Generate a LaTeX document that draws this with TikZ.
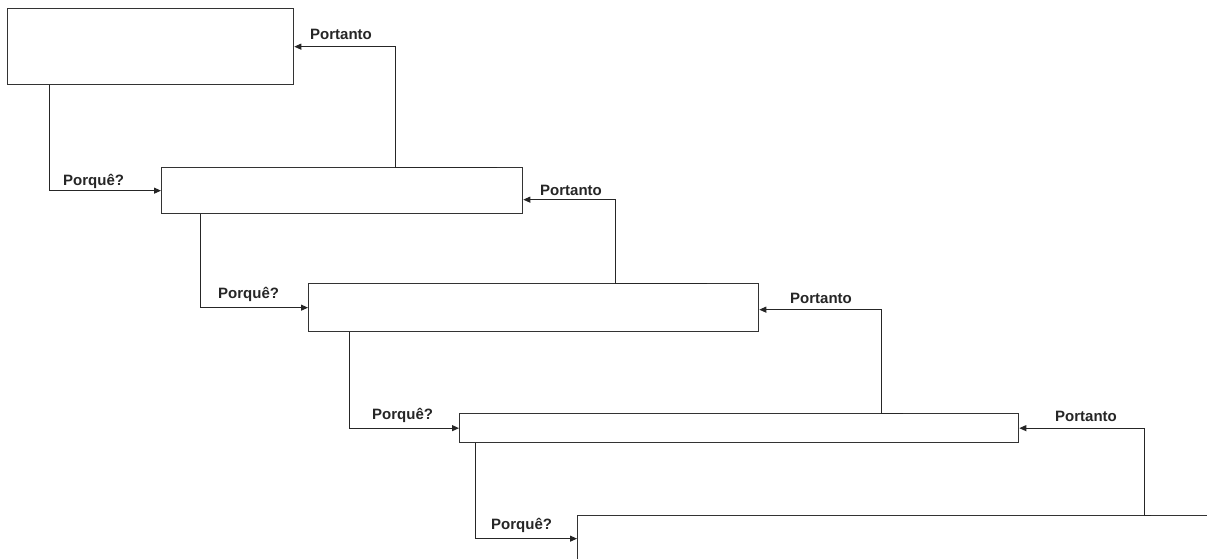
\documentclass[tikz,border=0pt]{standalone}
\usepackage{fontspec}
\setmainfont{Liberation Sans}
\usetikzlibrary{arrows.meta}
\begin{document}
\begin{tikzpicture}[x=1pt,y=-1pt,
  box/.style={draw=black!80,line width=1.3pt,fill=white,inner sep=0pt,anchor=north west},
  link/.style={draw=black!85,line width=1pt,-{Triangle[length=7pt,width=6pt]}},
  lbl/.style={font=\fontsize{15}{18}\selectfont\bfseries,inner sep=0pt,anchor=base west,text=black!85}]
\useasboundingbox (0,0) rectangle (1207,558);
\clip (0,0) rectangle (1207,558);
\fill[white] (0,0) rectangle (1207,558);

% the five steps, each one lower and further right
\node[box,minimum width=286pt,minimum height=76pt] (b1) at (7,8) {};
\node[box,minimum width=361pt,minimum height=46pt] (b2) at (161,167) {};
\node[box,minimum width=450pt,minimum height=48pt] (b3) at (308,283) {};
\node[box,minimum width=559pt,minimum height=29pt] (b4) at (459,413) {};
\node[box,minimum width=700pt,minimum height=46pt] (b5) at (577,515) {};

% "Porquê?" links: down from a box, into the next one
\draw[link] ([xshift=42pt]b1.south west) |- (b2.west);
\draw[link] ([xshift=39pt]b2.south west) |- (b3.west);
\draw[link] ([xshift=41pt]b3.south west) |- (b4.west);
\draw[link] ([xshift=16pt]b4.south west) |- (b5.west);

% "Portanto" links: up from a box, back into the previous one
\draw[link] ([xshift=336pt]b2.north west) -- ([xshift=234pt]b2.north west) |- (b1.east);
\draw[link] ([xshift=399pt]b3.north west) -- ([xshift=307pt]b3.north west) |- ([yshift=-9pt]b2.east);
\draw[link] ([xshift=444pt]b4.north west) -- ([xshift=422pt]b4.north west) |- ([yshift=-2pt]b3.east);
\draw[link] ([xshift=574pt]b5.north west) -- ([xshift=567pt]b5.north west) |- (b4.east);

% labels
\node[lbl] (q1) at (63,185) {Porquê?};
\node[lbl] (q2) at (218,298) {Porquê?};
\node[lbl] (q3) at (372,419) {Porquê?};
\node[lbl] (q4) at (491,529) {Porquê?};
\node[lbl] (t1) at (310,39) {Portanto};
\node[lbl] (t2) at (540,195) {Portanto};
\node[lbl] (t3) at (790,303) {Portanto};
\node[lbl] (t4) at (1055,421) {Portanto};
\end{tikzpicture}
\end{document}
